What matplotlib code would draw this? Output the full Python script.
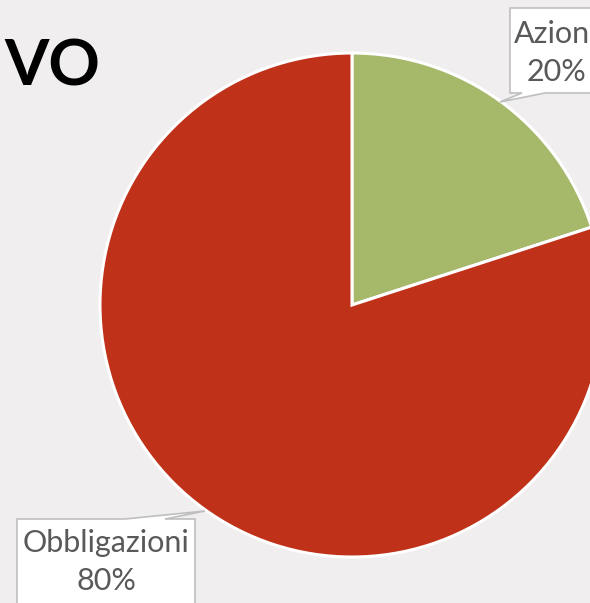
import matplotlib
matplotlib.use("Agg")
import matplotlib.pyplot as plt
from matplotlib.patches import Polygon

categories = ["Azioni", "Obbligazioni"]
values = [20, 80]
colors = ["#A6B96A", "#C0311A"]
title = "VO"

BG = "#F0EEEF"
W, H = 590, 603
fig = plt.figure(figsize=(W / 100, H / 100), dpi=100, facecolor=BG)
ax = fig.add_axes([0, 0, 1, 1])
ax.set_facecolor(BG)

# pixel-coordinate layout (y downward); angles flipped accordingly
ax.pie(values, colors=colors, startangle=-90, counterclock=True,
       center=(352, 305), radius=252,
       wedgeprops=dict(edgecolor="white", linewidth=2.2))
ax.set_xlim(0, W)
ax.set_ylim(H, 0)
ax.set_aspect("auto")
ax.axis("off")

total = sum(values)
pcts = [f"{round(v / total * 100)}%" for v in values]

# Title (partially visible)
ax.text(4, 67, title, fontsize=46, fontweight="bold", family=["Lato", "DejaVu Sans"],
        color="black", ha="left", va="center")

box_kw = dict(facecolor="white", edgecolor="#BFBFBF", linewidth=1.2, zorder=5)

# Callout for Azioni
az = Polygon([(510, 8), (620, 8), (620, 93), (545, 93), (500, 102), (522, 93), (510, 93)],
             closed=True, **box_kw)
ax.add_patch(az)
# Callout for Obbligazioni
ob = Polygon([(17, 519), (125, 519), (205, 511), (165, 519), (195, 519), (195, 640), (17, 640)],
             closed=True, **box_kw)
ax.add_patch(ob)

lab_kw = dict(fontsize=22, color="#595959", family=["Lato", "DejaVu Sans"],
              ha="center", va="center", zorder=6, linespacing=1.4)
ax.text(556, 53, f"{categories[0]}\n{pcts[0]}", **lab_kw)
ax.text(106, 562, f"{categories[1]}\n{pcts[1]}", **lab_kw)

fig.savefig("out.png", dpi=100, facecolor=BG)
